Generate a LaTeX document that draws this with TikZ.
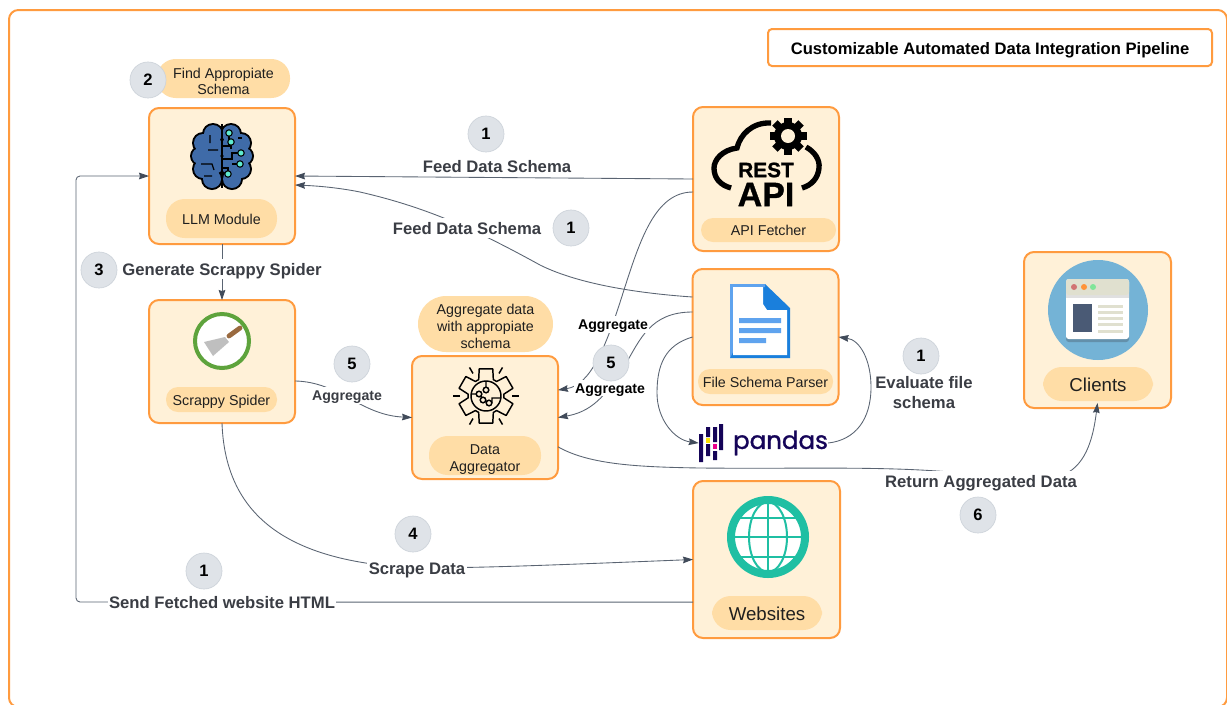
\documentclass[tikz,border=0pt]{standalone}
\usepackage{fontspec}
\setmainfont{Liberation Sans}
\newfontfamily\pandasfont[FakeBold=1.2]{Poppins}
\newfontfamily\heavyfont[FakeBold=1]{Liberation Sans Bold}
\usetikzlibrary{arrows.meta}
\definecolor{panelline}{HTML}{FF9B3F}
\definecolor{panelfill}{HTML}{FFF1D8}
\definecolor{pillfill}{HTML}{FFDDA6}
\definecolor{badgefill}{HTML}{DFE3E8}
\definecolor{badgeline}{HTML}{CDD3DA}
\definecolor{linkcolor}{HTML}{5A6472}
\definecolor{tipcolor}{HTML}{414B5A}
\definecolor{labelcolor}{HTML}{3A3D44}
\definecolor{brainblue}{HTML}{3F6BA8}
\definecolor{circuitcyan}{HTML}{5FEBD0}
\definecolor{docblue}{HTML}{1A7FDC}
\definecolor{doclight}{HTML}{5FA3EE}
\definecolor{pandasnavy}{HTML}{150458}
\definecolor{globeteal}{HTML}{1FBFA3}
\definecolor{ringgreen}{HTML}{5EA33C}
\definecolor{woodbrown}{HTML}{9A6A3F}
\definecolor{skyblue}{HTML}{74B3D6}
\definecolor{shadowblue}{HTML}{6390AB}
\definecolor{windowbar}{HTML}{E0E0CF}
\definecolor{windowslate}{HTML}{4A5A75}
\def\px{0.75pt}
\newcommand{\lift}[1]{\rule{0pt}{#1pt}}
\tikzset{
>={Stealth[length=7.5pt,width=5pt,inset=0.8pt,color=tipcolor]}, % arrow heads of the links
panel/.style={draw=panelline, fill=panelfill, line width=1.5pt, rounded corners=7.5pt, inner sep=0pt, outer sep=0pt, minimum width=146*\px},
pill/.style={fill=pillfill, rounded corners=14pt, inner sep=0pt, align=center, text=black!88, font=\fontsize{10.7}{12.5}\selectfont},
oneline/.style={text height=8.6pt, text depth=0pt},
bigpill/.style={pill, text height=11.4pt, text depth=0pt, minimum width=110*\px, minimum height=34*\px, font=\fontsize{14}{16}\selectfont},
badge/.style={circle, fill=badgefill, draw=badgeline, line width=0.5pt, minimum size=36*\px, inner sep=0pt, text=black, font=\fontsize{12.4}{14}\bfseries\selectfont},
steplabel/.style={fill=white, inner xsep=1pt, inner ysep=3pt, text height=9pt, text depth=0pt, text=labelcolor, font=\fontsize{12.5}{15}\bfseries\selectfont},
smalllabel/.style={fill=white, inner xsep=1pt, inner ysep=2.5pt, text height=7.6pt, text depth=0pt, font=\fontsize{10.6}{13}\bfseries\selectfont},
link/.style={->, draw=linkcolor, line width=0.65pt},
}

\begin{document}
\begin{tikzpicture}[x=\px, y=-\px]
    \useasboundingbox (0,0) rectangle (1227,704);
    \clip (0,0) rectangle (1227,704);
    \fill[white] (0,0) rectangle (1227,704);
    \draw[panelline, line width=1.5pt, rounded corners=7pt] (9,10) rectangle (1227,707);

    \node[panel, minimum height=136*\px] (llm) at (222,176) {};
    \node[panel, minimum height=144*\px] (api) at (766,179) {};
    \node[panel, minimum height=136*\px] (parser) at (765.5,337) {};
    \node[panel, minimum height=123*\px] (spider) at (222,361.5) {};
    \node[panel, minimum height=123*\px] (aggregator) at (485,417.5) {};
    \node[panel, minimum width=147*\px, minimum height=156*\px] (clients) at (1097.5,330) {};
    \node[panel, minimum width=147*\px, minimum height=157*\px] (websites) at (766.5,559.5) {};
    \node[draw=panelline, fill=white, line width=1.5pt, rounded corners=3pt, minimum width=444*\px, minimum height=37*\px, text height=12pt, text depth=0.8pt, font=\fontsize{12.45}{14}\bfseries\selectfont] (title) at (990,47.5) {Customizable Automated Data Integration Pipeline};

    \node[pill, minimum width=133*\px, minimum height=39*\px] (findpill) at (223.5,78.5) {\lift{12}Find Appropiate\\Schema};
    \node[pill, oneline, minimum width=111*\px, minimum height=39*\px] (llmpill) at (221.5,218.5) {LLM Module};
    \node[pill, oneline, minimum width=135*\px, minimum height=24*\px, rounded corners=9pt] (apipill) at (768.5,230) {API Fetcher};
    \node[pill, oneline, minimum width=135*\px, minimum height=25*\px, rounded corners=9pt] (parserpill) at (765.5,381.5) {File Schema Parser};
    \node[pill, oneline, minimum width=111*\px, minimum height=25*\px, rounded corners=9pt] (spiderpill) at (221.5,399.5) {Scrappy Spider};
    \node[pill, minimum width=135*\px, minimum height=56*\px, rounded corners=21pt] (schemapill) at (485.5,324) {\lift{11.3}Aggregate data\\with appropiate\\schema};
    \node[pill, minimum width=112*\px, minimum height=39*\px] (aggregatorpill) at (485,455.5) {\lift{13.5}Data\\Aggregator};
    \node[bigpill] (clientspill) at (1098,384) {Clients};
    \node[bigpill] (websitespill) at (767,613) {Websites};

    % brain of the llm module
    \begin{scope}[shift={(222,156)}]
        \foreach \s in {-1,1}
            \foreach \x/\y/\r in {9/-22/9, 19/-13/9, 22/0/8, 19/13/9, 10/23/9, 8/-8/10, 8/8/10}
                \fill[black] (\s*\x,\y) circle[radius=\r+2];
        \foreach \s in {-1,1}
            \foreach \x/\y/\r in {9/-22/9, 19/-13/9, 22/0/8, 19/13/9, 10/23/9, 8/-8/10, 8/8/10}
                \fill[brainblue] (\s*\x,\y) circle[radius=\r];
        \draw[line width=1.1pt] (0,-32) -- (0,32);
        \draw[line width=0.9pt] (-14,-6) -- (-4,-6) (-21,8) -- (-10,8) -- (-8,14) (-12,-21) -- (-12,-13) (-18,20) -- (-10,20);
        \draw[line width=0.9pt] (7,-23) -- (7,-10) -- (0,-10) (9,-14) -- (9,-7) (0,3) -- (10,3) -- (10,-3) -- (19,-3) (10,8) -- (18,8) (0,12) -- (6,12) -- (6,18) (16,-18) -- (20,-18);
        \foreach \x/\y in {7/-23, 9/-14, 19/-3, 18/8, 6/18}
            \filldraw[fill=circuitcyan, draw=black, line width=0.8pt] (\x,\y) circle[radius=3.2];
    \end{scope}

    % cloud and gear of the api fetcher
    \draw[line width=4pt] (771,123) .. controls (752,122) and (740,135) .. (737,148) .. controls (722,150) and (714,160) .. (714,168) .. controls (714,178) and (720,185) .. (731,188);
    \draw[line width=4pt] (806,147) .. controls (815,152) and (820,160) .. (819,168) .. controls (818,178) and (812,185) .. (802,188);
    \begin{scope}[shift={(788,136)}]
        \foreach \a in {0,45,90,135}
            \fill[rotate=\a] (-3.8,-18.5) rectangle (3.8,18.5);
        \fill (0,0) circle[radius=14];
        \fill[panelfill] (0,0) circle[radius=7];
    \end{scope}
    \node[inner sep=0pt, font=\fontsize{15.6}{15}\heavyfont] (resttext) at (766,170) {REST};
    \node[inner sep=0pt, font=\fontsize{25.5}{24}\heavyfont] (apitext) at (766,194.5) {API};

    % document of the file schema parser
    \fill[docblue] (730,284) -- (765,284) -- (790,308) -- (790,358) -- (730,358) -- cycle;
    \fill[doclight] (730,284) -- (765,284) -- (765,287) -- (733,287) -- (733,352) -- (730,358) -- cycle;
    \fill[white] (733,287) -- (763,287) -- (763,304) -- (767,310) -- (787,310) -- (787,355) -- (733,355) -- cycle;
    \fill[doclight] (739,318) rectangle (781,323) (739,328) rectangle (781,333) (739,338) rectangle (766,343);

    % pandas logo
    \node[inner sep=0pt, minimum width=24*\px, minimum height=38*\px] (pandasbars) at (711,443) {};
    \fill[pandasnavy] (699,434) rectangle (703,462) (706,427) rectangle (710,437) (706,444) rectangle (710,456) (713,427) rectangle (717,442) (713,451) rectangle (717,460) (719,424) rectangle (723,450);
    \fill[yellow!85!orange] (706,438) rectangle (710,442.5);
    \fill[magenta] (713,444) rectangle (717,448.5);
    \node[inner sep=0pt, text=pandasnavy, font=\fontsize{18.4}{20}\pandasfont] (pandas) at (780.5,443) {pandas};

    % scraper of the scrappy spider
    \filldraw[fill=white, draw=ringgreen, line width=3pt] (222,341) circle[radius=27];
    \fill[black!25] (204,342) -- (225,337) -- (229,342) -- (213,356) -- cycle;
    \draw[woodbrown, line width=3.6pt, line cap=round] (229,336) -- (240,328);

    % gear of the data aggregator
    \begin{scope}[shift={(486,396)}]
        \draw[line width=1.1pt, line join=round] (354:18) \foreach \a in {30,90,150,210,270,330} { -- (\a-24:18) -- (\a-14:28) -- (\a+14:28) -- (\a+24:18) } -- cycle;
        \draw[line width=1.1pt] (0,0) circle[radius=15];
        \draw[line width=1.1pt] (0,-15) -- (0,-9) (-15,-2) -- (-10,-2) (-5,0) -- (-3,4) (6,7) -- (6,2) -- (15,2);
        \foreach \x/\y in {0/-6, -7/-2, -3/4, 3/7}
            \draw[line width=1.1pt, fill=panelfill] (\x,\y) circle[radius=2.8];
        \foreach \a in {0,60,120,180,240,300}
            \draw[line width=1.1pt] (\a:26) -- (\a:33);
    \end{scope}

    % browser of the clients
    \fill[skyblue] (1098,310) circle[radius=50];
    \fill[shadowblue, rounded corners=2pt] (1066,284) rectangle (1129,342);
    \fill[white, rounded corners=2pt] (1066,279) rectangle (1129,339);
    \fill[black!12] (1066,292) rectangle (1129,298);
    \fill[windowbar, rounded corners=2pt] (1066,279) rectangle (1129,295);
    \fill[red!55!black!40!pink] (1074,287) circle[radius=3];
    \fill[orange!70!pink] (1084,287) circle[radius=3];
    \fill[teal!40!green!50!white] (1093,287) circle[radius=3];
    \fill[windowslate] (1073,304) rectangle (1092,332);
    \foreach \y in {306,312,318,324,331}
        \fill[windowbar] (1098,\y-1.5) rectangle (1123,\y+1.5);

    % globe of the websites
    \begin{scope}[shift={(768,537)}]
        \fill[white] (0,0) circle[radius=37];
        \draw[globeteal, line width=1.5pt] (0,-37) -- (0,37) (-37,0) -- (37,0) (-31,-19) -- (31,-19) (-31,20) -- (31,20);
        \draw[globeteal, line width=1.5pt] (0,0) ellipse[x radius=19, y radius=35];
        \draw[globeteal, line width=6pt] (0,0) circle[radius=37];
    \end{scope}

    \draw[link, rounded corners=3pt] ([yshift=-32pt]websites.west) -- (76,602) -- (76,176) -- (llm.west);
    \draw[link] (api.west) -- (llm.east);
    \draw[link] ([yshift=30pt]parser.west) .. controls (620,292) and (570,280) .. (540,265) .. controls (480,232) and (430,208) .. (360,192) .. controls (340,188) and (320,186) .. ([yshift=-6.75pt]llm.east);
    \draw[link] (llm.south) -- (spider.north);
    \draw[link] ([yshift=-9.75pt]api.west) .. controls (655,192) and (640,240) .. (623,293) .. controls (605,350) and (590,385) .. ([yshift=20.6pt]aggregator.east);
    \draw[link] ([yshift=18.75pt]parser.west) .. controls (650,312) and (640,340) .. (625,365) .. controls (605,398) and (590,412) .. (aggregator.east);
    \draw[link] (parser.west) .. controls (665,345) and (657,365) .. (657,393) .. controls (657,420) and (675,440) .. (pandasbars.west);
    \draw[link] (pandas.east) .. controls (855,440) and (871,420) .. (871,387) .. controls (871,360) and (860,340) .. (parser.east);
    \draw[link] ([yshift=-14.6pt]spider.east) .. controls (340,382) and (360,415) .. (aggregator.west);
    \draw[link] (spider.south) .. controls (225,510) and (280,553) .. (380,565) .. controls (420,570) and (480,568) .. (websites.west);
    \draw[link] ([yshift=-22pt]aggregator.east) .. controls (590,465) and (640,467) .. (700,468) .. controls (800,469) and (880,466) .. (950,472) .. controls (1000,476) and (1030,484) .. (1060,476) .. controls (1085,468) and (1093,440) .. ([yshift=3.75pt]clients.south);

    \node[steplabel] (feedapi) at (497,166) {Feed Data Schema};
    \node[steplabel] (feedparser) at (467,228) {Feed Data Schema};
    \node[steplabel] (generate) at (222,269) {Generate Scrappy Spider};
    \node[fill=white, inner sep=1pt, align=center, text=labelcolor, font=\fontsize{12.5}{15}\bfseries\selectfont] (evaluate) at (924,392.5) {Evaluate file\\schema};
    \node[steplabel] (returned) at (981,481) {Return Aggregated Data};
    \node[steplabel] (scrape) at (417,568) {Scrape Data};
    \node[steplabel] (sendhtml) at (222,602) {Send Fetched website HTML};
    \node[smalllabel, text=labelcolor] (spideraggregate) at (347,395.5) {Aggregate};
    \node[smalllabel] (apiaggregate) at (613,324.5) {Aggregate};
    \node[smalllabel] (parseraggregate) at (610,388) {Aggregate};

    \node[badge] (findbadge) at (148,80) {2};
    \node[badge] (feedapibadge) at (486,134) {1};
    \node[badge] (feedparserbadge) at (571,228) {1};
    \node[badge] (generatebadge) at (99,270) {3};
    \node[badge] (spiderbadge) at (352,364) {5};
    \node[badge] (parserbadge) at (611,363) {5};
    \node[badge] (evaluatebadge) at (921,356) {1};
    \node[badge] (scrapebadge) at (413,534) {4};
    \node[badge] (sendbadge) at (204,571) {1};
    \node[badge] (returnbadge) at (978,515) {6};
\end{tikzpicture}
\end{document}
